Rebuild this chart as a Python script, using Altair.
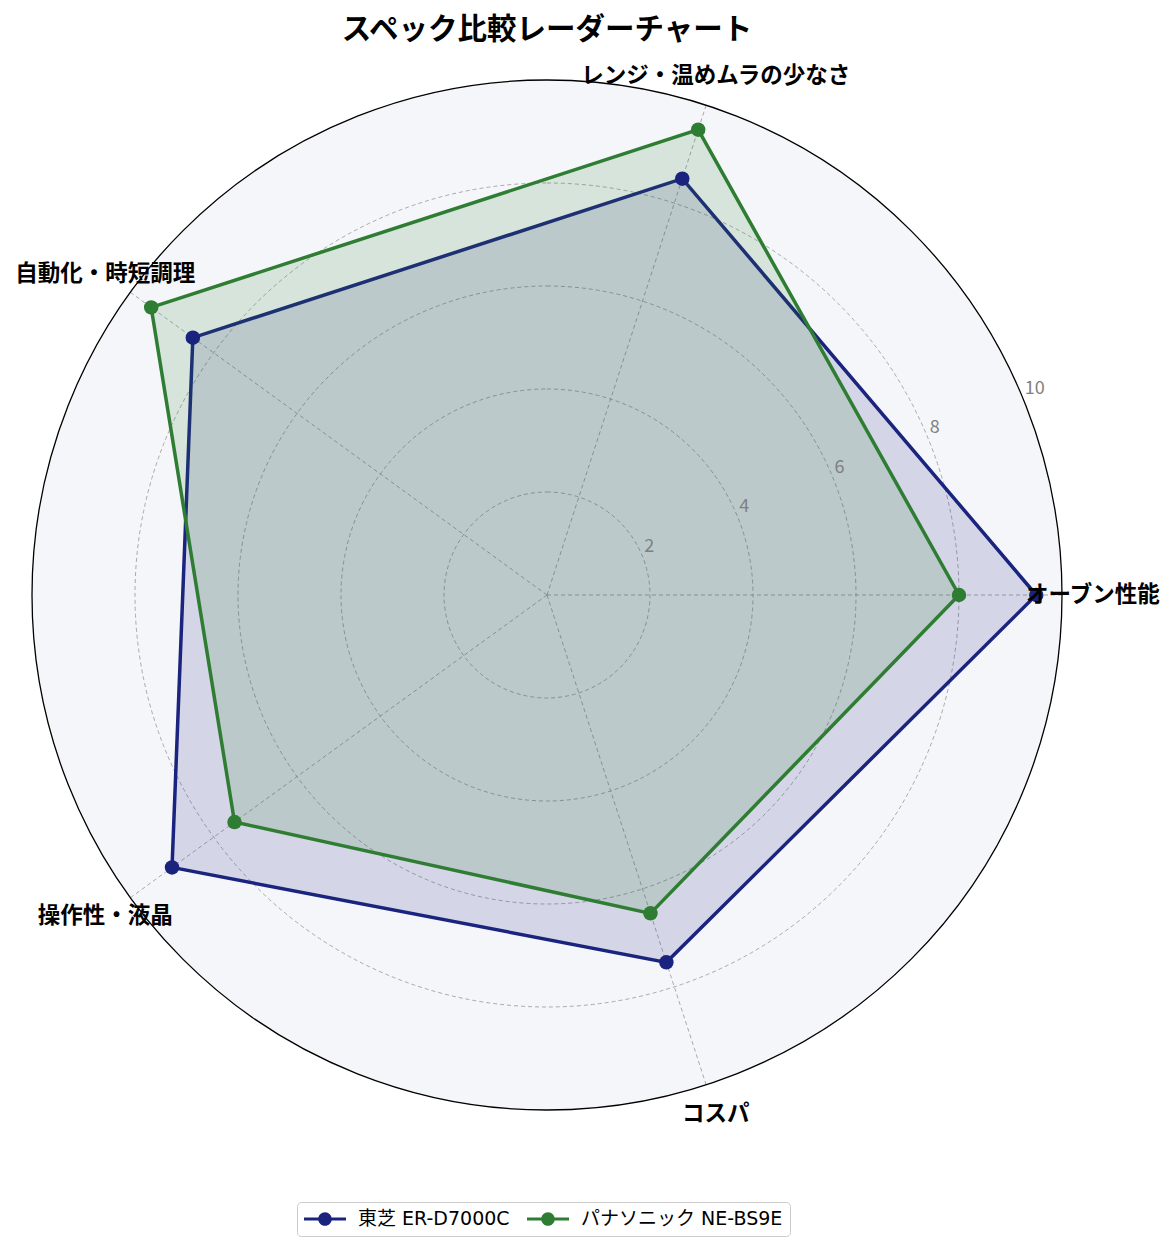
import altair as alt
import pandas as pd

# ---- data ----
categories = ["オーブン性能", "レンジ・温めムラの少なさ", "自動化・時短調理", "操作性・液晶", "コスパ"]
series_names = ["東芝 ER-D7000C", "パナソニック NE-BS9E"]
toshiba_scores = [9.5, 8.5, 8.5, 9.0, 7.5]
panasonic_scores = [8.0, 9.5, 9.5, 7.5, 6.5]
series_colors = ["#1a237e", "#2e7d32"]
grid_levels = [2, 4, 6, 8]
tick_labels = [2, 4, 6, 8, 10]
r_max = [10]

FONT = "Noto Sans CJK JP"
LEGEND_FONT = "DejaVu Sans, Noto Sans CJK JP"
N = len(categories)

rows = []
for s, vals in zip(series_names, [toshiba_scores, panasonic_scores]):
    for i, (c, v) in enumerate(zip(categories, vals)):
        rows.append({"series": s, "category": c, "idx": i, "value": v})
scores = pd.DataFrame(rows)
cat_df = pd.DataFrame({"category": categories, "idx": list(range(N))})

ANG = f"datum.idx * 2 * PI / {N}"

xs = alt.Scale(domain=[-10, 10], nice=False, zero=False)
ys = alt.Scale(domain=[-10, 10], nice=False, zero=False)
rs = alt.Scale(type="linear", domain=[0, 10], range=[0, 515], zero=True)
cs = alt.Scale(domain=series_names, range=series_colors)

legend_path = ("M-2.1,-0.15H-0.62V0.15H-2.1Z M0.62,-0.15H2.1V0.15H0.62Z "
               "M-0.68,0A0.68,0.68 0 1,1 0.68,0A0.68,0.68 0 1,1 -0.68,0Z")


def circle_layer(df, **mark_kw):
    return alt.Chart(df).mark_arc(**mark_kw).encode(
        x=alt.datum(0, scale=xs, axis=None),
        y=alt.datum(0, scale=ys, axis=None),
        radius=alt.Radius("r:Q", scale=rs, stack=None),
        theta=alt.value(0),
        theta2=alt.value(7),
    )


bg = circle_layer(pd.DataFrame({"r": r_max}), fill="#f5f6fa", strokeWidth=0)
grid = circle_layer(pd.DataFrame({"r": grid_levels}), filled=False,
                    stroke="#a0a0a0", strokeWidth=0.9, strokeDash=[4, 3])
outer = circle_layer(pd.DataFrame({"r": r_max}), filled=False,
                     stroke="black", strokeWidth=1.3)

spokes = alt.Chart(cat_df).transform_calculate(
    zx="0", zy="0",
    ex=f"10 * cos({ANG})", ey=f"10 * sin({ANG})",
).mark_rule(stroke="#a0a0a0", strokeWidth=0.9, strokeDash=[4, 3]).encode(
    x=alt.X("zx:Q", scale=xs, axis=None),
    y=alt.Y("zy:Q", scale=ys, axis=None),
    x2="ex:Q", y2="ey:Q",
)

pos = alt.Chart(scores).transform_calculate(
    px=f"datum.value * cos({ANG})", py=f"datum.value * sin({ANG})",
)

polys = pos.mark_line(interpolate="linear-closed", strokeWidth=3.5, fillOpacity=0.15).encode(
    x=alt.X("px:Q", scale=xs, axis=None),
    y=alt.Y("py:Q", scale=ys, axis=None),
    color=alt.Color("series:N", scale=cs, legend=None),
    fill=alt.Fill("series:N", scale=cs, legend=None),
    order="idx:Q",
)

points = pos.mark_point(filled=True, size=210, opacity=1).encode(
    x=alt.X("px:Q", scale=xs, axis=None),
    y=alt.Y("py:Q", scale=ys, axis=None),
    color=alt.Color("series:N", scale=cs, legend=alt.Legend(
        title=None, orient="none", legendX=265, legendY=1122,
        direction="horizontal", symbolType=legend_path, symbolSize=400,
        symbolStrokeWidth=0, symbolOpacity=1, symbolOffset=11, labelOffset=23,
        labelFont=LEGEND_FONT, labelFontSize=19, labelColor="black",
        labelLimit=500, padding=7, strokeColor="#cccccc", fillColor="white",
        cornerRadius=4, columnPadding=17,
    )),
)

labels = alt.Chart(cat_df).transform_calculate(
    lx=f"10.6 * cos({ANG})", ly=f"10.6 * sin({ANG})",
).mark_text(font=FONT, fontSize=22.5, fontWeight="bold", align="center",
            baseline="middle", color="black").encode(
    x=alt.X("lx:Q", scale=xs, axis=None),
    y=alt.Y("ly:Q", scale=ys, axis=None),
    text="category:N",
)

rticks = alt.Chart(pd.DataFrame({"t": tick_labels})).transform_calculate(
    tx="datum.t * cos(PI / 8)", ty="datum.t * sin(PI / 8)",
).mark_text(font=FONT, fontSize=18, align="left", baseline="alphabetic",
            dx=2, dy=-4, color="#808080").encode(
    x=alt.X("tx:Q", scale=xs, axis=None),
    y=alt.Y("ty:Q", scale=ys, axis=None),
    text="t:Q",
)

chart = alt.layer(bg, grid, spokes, outer, polys, points, labels, rticks).properties(
    width=1030, height=1030,
    title=alt.TitleParams(text="スペック比較レーダーチャート", font=FONT, fontSize=29.5,
                          fontWeight="bold", anchor="middle", frame="group",
                          color="black", offset=19),
    padding={"left": 24, "top": 72, "right": 105, "bottom": 133},
    autosize="none",
).resolve_legend(color="independent", fill="independent", stroke="independent"
).configure_view(stroke=None)

chart.save("out.html", embed_options={"renderer": "svg", "actions": False})
